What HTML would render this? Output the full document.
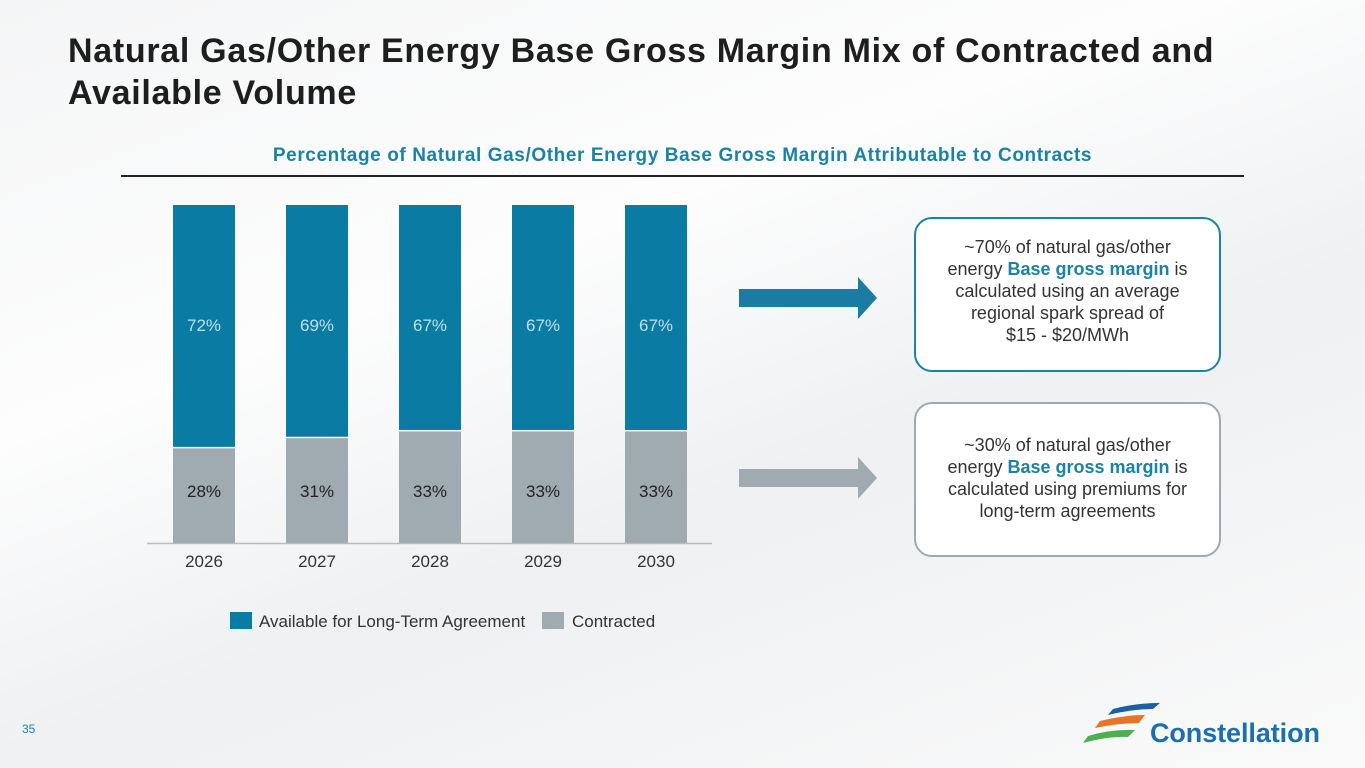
<!DOCTYPE html>
<html><head><meta charset="utf-8"><style>
body{margin:0;width:1365px;height:768px;overflow:hidden;font-family:"Liberation Sans",sans-serif;background:linear-gradient(160deg,#f4f5f6 0%,#fdfdfd 35%,#eef0f2 60%,#fafafa 100%);position:relative}
.t{position:absolute;left:68px;top:30px;font-size:34px;letter-spacing:0.7px;font-weight:bold;color:#1e1e1e;line-height:42px}
.sub{position:absolute;left:0;width:1365px;top:145px;text-align:center;color:#1a82a6;font-weight:bold;font-size:19px;letter-spacing:0.6px}
.rule{position:absolute;left:121px;top:175px;width:1123px;height:1.5px;background:#222}
.box{position:absolute;left:914px;width:307px;border:2px solid;border-radius:18px;background:#fff;text-align:center;font-size:18px;color:#333;line-height:22px;box-sizing:border-box;padding-left:22px;padding-right:22px}
.box b{color:#1a82a6}
</style></head><body>
<div class="t">Natural Gas/Other Energy Base Gross Margin Mix of Contracted and<br>Available Volume</div>
<div class="sub">Percentage of Natural Gas/Other Energy Base Gross Margin Attributable to Contracts</div>
<div class="rule"></div>
<svg id="chart" width="1365" height="768" style="position:absolute;left:0;top:0"></svg>
<div class="box" style="top:217px;height:155px;border-color:#1a82a6;padding-top:17px">~70% of natural gas/other energy <b>Base gross margin</b> is calculated using an average regional spark spread of<br>$15 - $20/MWh</div>
<div class="box" style="top:402px;height:155px;border-color:#a0a9b0;padding-top:30px">~30% of natural gas/other energy <b>Base gross margin</b> is calculated using premiums for long-term agreements</div>
<div style="position:absolute;left:22px;top:722px;font-size:12px;color:#1a82a6">35</div>
<svg width="270" height="60" style="position:absolute;left:1075px;top:695px">
<path d="M38 14 Q60 8 85 8 L78 14 Q58 14 33 20Z" fill="#1a5fa8"/>
<path d="M25 26 Q50 20 70 20 L64 28 Q44 28 20 33Z" fill="#e8742a"/>
<path d="M13 41 Q36 34 60 35 L53 42 Q34 41 8 48Z" fill="#4caf50"/>
<text x="75" y="47" font-size="27" font-weight="bold" fill="#1a6fae" textLength="170" font-family="Liberation Sans,sans-serif">Constellation</text>
</svg>
<script>
const years=["2026","2027","2028","2029","2030"];
const contracted=[28,31,33,33,33];
const available=[72,69,67,67,67];
const svg=document.getElementById('chart');
const NS="http://www.w3.org/2000/svg";
const y0=543,H=338;
const yPx=v=>y0-v/100*H;
const xPx=i=>173+i*113;
const bw=62;
function mk(tag,at,txt){const e=document.createElementNS(NS,tag);for(const k in at)e.setAttribute(k,at[k]);if(txt!=null)e.textContent=txt;svg.appendChild(e);return e;}
years.forEach((yr,i)=>{
 const x=xPx(i),c=contracted[i],a=available[i];
 let r=mk('rect',{x:x,y:yPx(c),width:bw,height:y0-yPx(c),fill:'#a0aab1'});
 
 
 r=mk('rect',{x:x,y:yPx(c+a),width:bw,height:yPx(c)-yPx(c+a)-1.5,fill:'#0a7ba3'});
 
 
 let t=mk('text',{x:x+bw/2,y:331,'text-anchor':'middle','font-size':17,fill:'#bfe0ea'},a+'%');
 
 
 t=mk('text',{x:x+bw/2,y:497,'text-anchor':'middle','font-size':17,fill:'#222'},c+'%');
 
 
 t=mk('text',{x:x+bw/2,y:567,'text-anchor':'middle','font-size':17,fill:'#333'},yr);
 
 
});
let ax=mk('line',{x1:147,x2:712,y1:y0+0.5,y2:y0+0.5,stroke:'#bbb','stroke-width':1.5});


[[ '#1a7ba3',298],['#a0aab1',478]].forEach((a,i)=>{
 const p=mk('path',{d:`M739 ${a[1]-9} H858 V${a[1]-21} L877 ${a[1]} L858 ${a[1]+21} V${a[1]+9} H739Z`,fill:a[0]});
 
 
});
let l=mk('rect',{x:230,y:612,width:22,height:17,fill:'#0a7ba3'});


l=mk('text',{x:259,y:627,'font-size':17,fill:'#333'},'Available for Long-Term Agreement');


l=mk('rect',{x:542,y:612,width:22,height:17,fill:'#a0aab1'});


l=mk('text',{x:572,y:627,'font-size':17,fill:'#333'},'Contracted');


</script>
</body></html>
